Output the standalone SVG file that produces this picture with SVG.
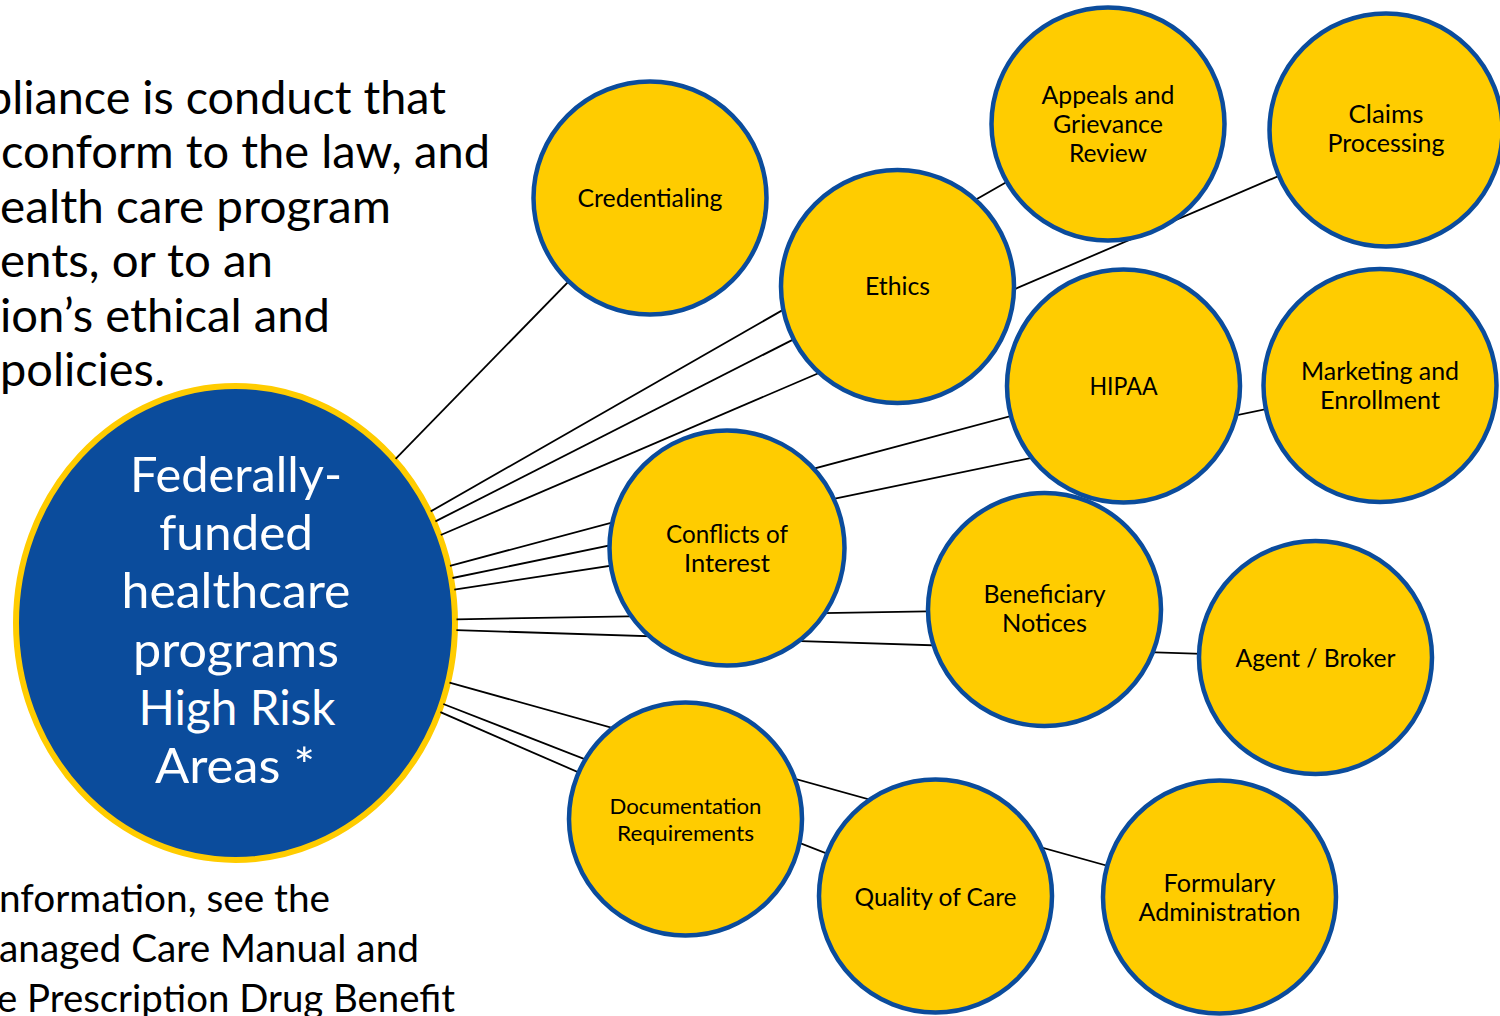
<svg xmlns="http://www.w3.org/2000/svg" width="1500" height="1016" viewBox="0 0 1500 1016">
<style>
  .para{font-family:Lato,"Liberation Sans",sans-serif;fill:#000}
  .p1{font-size:45.5px}
  .p2{font-size:39.5px}
  .hub{fill:#0B4C9C;stroke:#FFCC00;stroke-width:6}
  .hubt{font-family:Lato,"Liberation Sans",sans-serif;font-size:48px;fill:#fff;text-anchor:middle}
  .node circle{fill:#FFCC00;stroke:#0B4C9C;stroke-width:4.5}
  .node text{font-family:Lato,"Liberation Sans",sans-serif;font-size:24.5px;fill:#000;text-anchor:middle}
  .node text.sm{font-size:21.7px}
  .conn line{stroke:#000;stroke-width:1.8}
</style>
<rect width="1500" height="1016" fill="#fff"/>

<g id="definition-text" class="para p1">
  <text x="-14" y="113.5" textLength="460" lengthAdjust="spacingAndGlyphs">pliance is conduct that</text>
  <text x="1" y="168" textLength="489" lengthAdjust="spacingAndGlyphs">conform to the law, and</text>
  <text x="0" y="222.5" textLength="391" lengthAdjust="spacingAndGlyphs">ealth care program</text>
  <text x="0" y="277" textLength="273" lengthAdjust="spacingAndGlyphs">ents, or to an</text>
  <text x="0" y="331.5" textLength="330" lengthAdjust="spacingAndGlyphs">ion’s ethical and</text>
  <text x="0" y="386" textLength="165" lengthAdjust="spacingAndGlyphs">policies.</text>
</g>

<g id="reference-text" class="para p2">
  <text x="-1" y="911.5" textLength="331" lengthAdjust="spacingAndGlyphs">nformation, see the</text>
  <text x="-1" y="961.5" textLength="420" lengthAdjust="spacingAndGlyphs">anaged Care Manual and</text>
  <text x="-3" y="1011.5" textLength="458" lengthAdjust="spacingAndGlyphs">e Prescription Drug Benefit</text>
</g>

<g id="hub">
  <ellipse class="hub" cx="235.5" cy="623" rx="219.5" ry="237"/>
  <text class="hubt" x="236" y="491.5" textLength="212" lengthAdjust="spacingAndGlyphs">Federally-</text>
  <text class="hubt" x="236" y="550" textLength="154" lengthAdjust="spacingAndGlyphs">funded</text>
  <text class="hubt" x="236" y="608.3" textLength="229" lengthAdjust="spacingAndGlyphs">healthcare</text>
  <text class="hubt" x="236" y="666.7" textLength="206" lengthAdjust="spacingAndGlyphs">programs</text>
  <text class="hubt" x="237" y="725" textLength="197" lengthAdjust="spacingAndGlyphs">High Risk</text>
  <text class="hubt" x="235" y="783.3" textLength="160" lengthAdjust="spacingAndGlyphs">Areas *</text>
</g>

<g id="connectors" class="conn">
  <line x1="395.6" y1="458.9" x2="650" y2="198"/>
  <line x1="435.4" y1="521.4" x2="897.5" y2="286.5"/>
  <line x1="430.7" y1="511.4" x2="1108" y2="124"/>
  <line x1="440.8" y1="535" x2="1386" y2="130"/>
  <line x1="450" y1="565.8" x2="1123.5" y2="386"/>
  <line x1="452.5" y1="578" x2="1380" y2="385.5"/>
  <line x1="454.3" y1="589.6" x2="727" y2="548"/>
  <line x1="456.5" y1="619.3" x2="1044.5" y2="609.5"/>
  <line x1="456.4" y1="630.1" x2="1315.5" y2="657.5"/>
  <line x1="449.5" y1="682.6" x2="1219.5" y2="897"/>
  <line x1="443.3" y1="704" x2="935.5" y2="896"/>
  <line x1="440.4" y1="712.2" x2="685.5" y2="819"/>
</g>

<g id="credentialing" class="node">
  <circle cx="650" cy="198" r="116.5"/>
  <text x="650" y="207" textLength="145" lengthAdjust="spacingAndGlyphs">Credentialing</text>
</g>
<g id="ethics" class="node">
  <circle cx="897.5" cy="286.5" r="116.5"/>
  <text x="897.5" y="295" textLength="65" lengthAdjust="spacingAndGlyphs">Ethics</text>
</g>
<g id="appeals" class="node">
  <circle cx="1108" cy="124" r="116.5"/>
  <text x="1108" y="103.5" textLength="133" lengthAdjust="spacingAndGlyphs">Appeals and</text>
  <text x="1108" y="132.5" textLength="110" lengthAdjust="spacingAndGlyphs">Grievance</text>
  <text x="1108" y="162" textLength="78" lengthAdjust="spacingAndGlyphs">Review</text>
</g>
<g id="claims" class="node">
  <circle cx="1386" cy="130" r="116.5"/>
  <text x="1386" y="122.5" textLength="75" lengthAdjust="spacingAndGlyphs">Claims</text>
  <text x="1386" y="152" textLength="117" lengthAdjust="spacingAndGlyphs">Processing</text>
</g>
<g id="hipaa" class="node">
  <circle cx="1123.5" cy="386" r="116.5"/>
  <text x="1123.5" y="394.5" textLength="68" lengthAdjust="spacingAndGlyphs">HIPAA</text>
</g>
<g id="marketing" class="node">
  <circle cx="1380" cy="385.5" r="116.5"/>
  <text x="1380" y="380" textLength="158" lengthAdjust="spacingAndGlyphs">Marketing and</text>
  <text x="1380" y="409" textLength="120" lengthAdjust="spacingAndGlyphs">Enrollment</text>
</g>
<g id="conflicts" class="node">
  <circle cx="727" cy="548" r="117.5"/>
  <text x="727" y="543" textLength="122" lengthAdjust="spacingAndGlyphs">Conflicts of</text>
  <text x="727" y="572" textLength="86" lengthAdjust="spacingAndGlyphs">Interest</text>
</g>
<g id="beneficiary" class="node">
  <circle cx="1044.5" cy="609.5" r="116.5"/>
  <text x="1044.5" y="603" textLength="122" lengthAdjust="spacingAndGlyphs">Beneficiary</text>
  <text x="1044.5" y="632" textLength="85" lengthAdjust="spacingAndGlyphs">Notices</text>
</g>
<g id="agent" class="node">
  <circle cx="1315.5" cy="657.5" r="116.5"/>
  <text x="1315.5" y="666.5" textLength="160" lengthAdjust="spacingAndGlyphs">Agent / Broker</text>
</g>
<g id="documentation" class="node">
  <circle cx="685.5" cy="819" r="116.5"/>
  <text class="sm" x="685.5" y="813.5" textLength="152" lengthAdjust="spacingAndGlyphs">Documentation</text>
  <text class="sm" x="685.5" y="840.5" textLength="137" lengthAdjust="spacingAndGlyphs">Requirements</text>
</g>
<g id="quality" class="node">
  <circle cx="935.5" cy="896" r="116.5"/>
  <text x="935.5" y="905.5" textLength="162" lengthAdjust="spacingAndGlyphs">Quality of Care</text>
</g>
<g id="formulary" class="node">
  <circle cx="1219.5" cy="897" r="116.5"/>
  <text x="1219.5" y="891.5" textLength="112" lengthAdjust="spacingAndGlyphs">Formulary</text>
  <text x="1219.5" y="920.5" textLength="162" lengthAdjust="spacingAndGlyphs">Administration</text>
</g>
</svg>
